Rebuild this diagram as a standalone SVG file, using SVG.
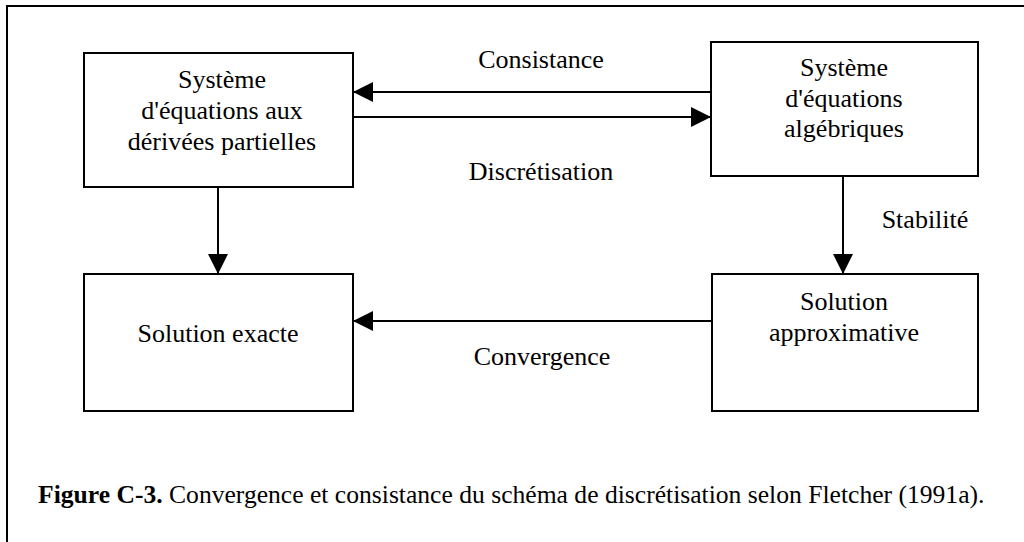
<svg xmlns="http://www.w3.org/2000/svg" width="1024" height="542" viewBox="0 0 1024 542">
<style>
  .box { fill: #fff; stroke: #000; stroke-width: 2; }
  .t { font-family: "Liberation Serif", "Times New Roman", serif; font-size: 26px; fill: #000; text-anchor: middle; }
  .cap { font-family: "Liberation Serif", "Times New Roman", serif; font-size: 25.6px; fill: #000; }
  .edge { stroke: #000; stroke-width: 2; fill: none; }
  .frame { stroke: #000; stroke-width: 2; fill: none; }
</style>
<defs>
  <marker id="arrow" viewBox="0 0 20 20" refX="20" refY="10" markerWidth="20" markerHeight="20" markerUnits="userSpaceOnUse" orient="auto">
    <path d="M0,0 L20,10 L0,20 Z" fill="#000"/>
  </marker>
</defs>
<rect width="1024" height="542" fill="#fff"/>
<path class="frame" d="M7,542 L7,6 L1024,6"/>

<g id="node-edp">
  <rect class="box" x="84" y="53" width="269" height="134"/>
  <text class="t" x="222" y="88">Système</text>
  <text class="t" x="222" y="119">d'équations aux</text>
  <text class="t" x="222" y="150">dérivées partielles</text>
</g>
<g id="node-alg">
  <rect class="box" x="711" y="42" width="267" height="134"/>
  <text class="t" x="844" y="76">Système</text>
  <text class="t" x="844" y="107">d'équations</text>
  <text class="t" x="844" y="137">algébriques</text>
</g>
<g id="node-exacte">
  <rect class="box" x="84" y="274" width="269" height="137"/>
  <text class="t" x="218" y="342">Solution exacte</text>
</g>
<g id="node-approx">
  <rect class="box" x="712" y="274" width="266" height="137"/>
  <text class="t" x="844" y="310">Solution</text>
  <text class="t" x="844" y="341">approximative</text>
</g>

<g id="connectors">
  <line class="edge" x1="711" y1="92" x2="353" y2="92" marker-end="url(#arrow)"/>
  <line class="edge" x1="353" y1="117" x2="711" y2="117" marker-end="url(#arrow)"/>
  <line class="edge" x1="218" y1="187" x2="218" y2="274" marker-end="url(#arrow)"/>
  <line class="edge" x1="843" y1="176" x2="843" y2="274" marker-end="url(#arrow)"/>
  <line class="edge" x1="712" y1="321" x2="353" y2="321" marker-end="url(#arrow)"/>
  <text class="t" x="541" y="68">Consistance</text>
  <text class="t" x="541" y="180">Discrétisation</text>
  <text class="t" x="925" y="228">Stabilité</text>
  <text class="t" x="542" y="365">Convergence</text>
</g>

<text class="cap" x="38" y="503"><tspan font-weight="bold">Figure C-3.</tspan> Convergence et consistance du schéma de discrétisation selon Fletcher (1991a).</text>
</svg>
